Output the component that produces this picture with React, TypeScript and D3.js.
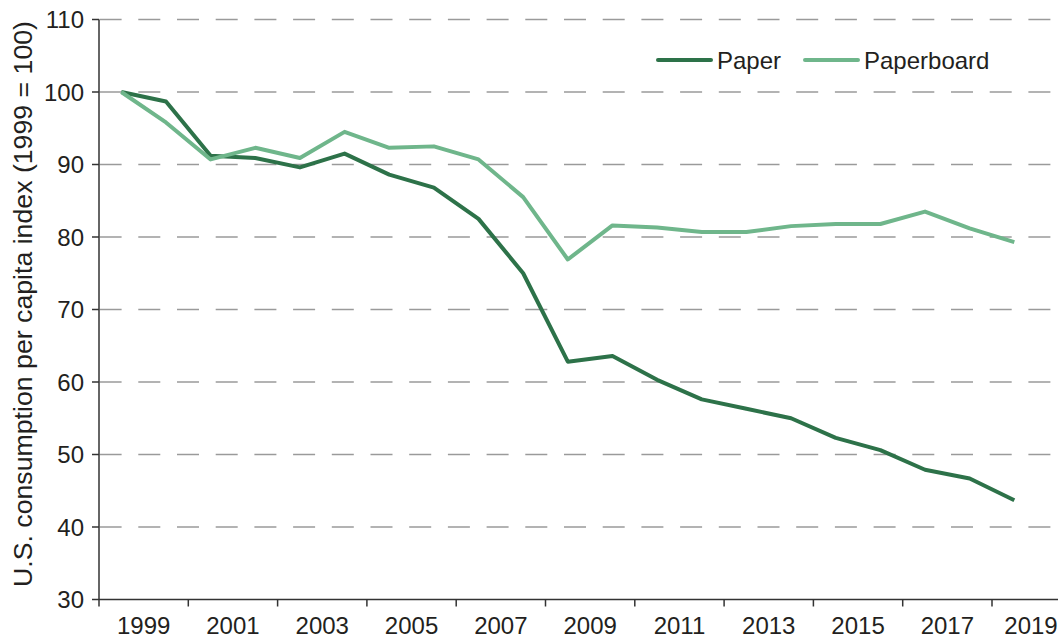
import React from "react";
import * as d3 from "d3";

const years = d3.range(1999, 2020);
const paper = [100, 98.7, 91.2, 90.9, 89.6, 91.5, 88.6, 86.8, 82.5, 75.0, 62.8, 63.6, 60.3, 57.6, 56.3, 55.0, 52.3, 50.6, 47.9, 46.7, 43.7];
const paperboard = [100, 95.8, 90.7, 92.3, 90.9, 94.5, 92.3, 92.5, 90.7, 85.5, 76.9, 81.6, 81.3, 80.7, 80.7, 81.5, 81.8, 81.8, 83.5, 81.2, 79.3];
const yTicks = [30, 40, 50, 60, 70, 80, 90, 100, 110];
const xLabels = [1999, 2001, 2003, 2005, 2007, 2009, 2011, 2013, 2015, 2017, 2019];
const seriesNames = ["Paper", "Paperboard"];
const colors = ["#2d7249", "#6fb68b"];
const yTitle = "U.S. consumption per capita index (1999 = 100)";

const W = 1062, H = 641;
const left = 99, axisEnd = 1058, top = 19.5, bottom = 599.5;
const font = "'Liberation Sans', Arial, Helvetica, sans-serif";
const textColor = "#231f20";

export default function App() {
  const x = d3.scaleLinear().domain([1998.5, 2019.5]).range([left, left + 21 * 44.65]);
  const y = d3.scaleLinear().domain([30, 110]).range([bottom, top]);
  const line = d3.line<number>().x((_, i) => x(years[i])).y((d) => y(d));
  const tickYears = xLabels.map((v) => v - 0.5);
  const data = [paper, paperboard];

  return (
    <svg width={W} height={H} style={{ position: "absolute", left: 0, top: 0, background: "#fff" }}>
      {/* grid */}
      {yTicks.filter((t) => t > 30).map((t) => (
        <line key={"g" + t} x1={left + 0.6} x2={1052} y1={y(t)} y2={y(t)} stroke="#9a9a9a" strokeWidth={1.5} strokeDasharray="22,16.7" />
      ))}
      {/* y axis */}
      <line x1={left} x2={left} y1={top} y2={bottom} stroke="#333" strokeWidth={1.5} />
      {yTicks.map((t) => (
        <g key={"y" + t}>
          <line x1={left - 7} x2={left} y1={y(t)} y2={y(t)} stroke="#333" strokeWidth={1.5} />
          <text x={left - 15} y={y(t)} dy="0.36em" textAnchor="end" fontFamily={font} fontSize={24} fill={textColor}>{t}</text>
        </g>
      ))}
      {/* x axis */}
      <line x1={left} x2={axisEnd} y1={bottom} y2={bottom} stroke="#333" strokeWidth={1.5} />
      {tickYears.map((t) => (
        <line key={"xt" + t} x1={x(t)} x2={x(t)} y1={bottom} y2={bottom + 7} stroke="#333" strokeWidth={1.5} />
      ))}
      {xLabels.map((v) => (
        <text key={"xl" + v} x={Math.min(x(v + 0.5), W - 31)} y={634} textAnchor="middle" fontFamily={font} fontSize={24} fill={textColor}>{v}</text>
      ))}
      {/* title */}
      <text transform={`translate(32,${304}) rotate(-90)`} textAnchor="middle" fontFamily={font} fontSize={26.7} fill={textColor}>{yTitle}</text>
      {/* lines */}
      {data.map((d, i) => (
        <path key={"s" + i} d={line(d) || ""} fill="none" stroke={colors[i]} strokeWidth={4} strokeLinejoin="round" />
      ))}
      {/* legend */}
      {seriesNames.map((n, i) => {
        const lx = i === 0 ? 658 : 805;
        return (
          <g key={"lg" + n}>
            <line x1={lx} x2={lx + 53} y1={60} y2={60} stroke={colors[i]} strokeWidth={4} strokeLinecap="round" />
            <text x={lx + 59} y={60} dy="0.36em" fontFamily={font} fontSize={24} fill={textColor}>{n}</text>
          </g>
        );
      })}
    </svg>
  );
}
